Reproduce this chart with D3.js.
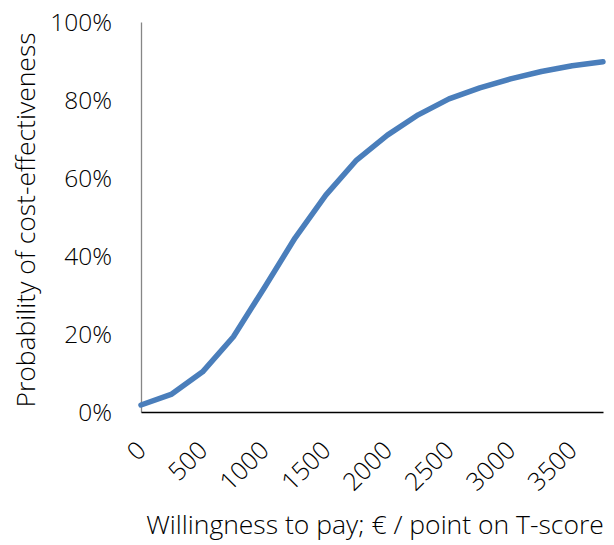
<!DOCTYPE html>
<html>
<head>
<meta charset="utf-8">
<script src="https://cdn.jsdelivr.net/npm/d3@7"></script>
<style>
  body { margin: 0; background: #fff; }
  text { font-family: "Open Sans", sans-serif; font-weight: 300; fill: #000; }
</style>
</head>
<body>
<div class="chart"></div>
<script>
// willingness to pay (€ / point) and probability of cost-effectiveness
var wtp = [0, 250, 500, 750, 1000, 1250, 1500, 1750, 2000, 2250, 2500, 2750, 3000, 3250, 3500, 3750];
var prob = [0.018, 0.046, 0.103, 0.193, 0.318, 0.446, 0.556, 0.646, 0.710, 0.762, 0.803, 0.831, 0.854, 0.873, 0.888, 0.898];
var xTicks = [0, 500, 1000, 1500, 2000, 2500, 3000, 3500];
var yTicks = [0, 0.2, 0.4, 0.6, 0.8, 1];

var w = 614;
var h = 545;
var margin = {top: 22, right: 11, bottom: 133, left: 141};

var svg = d3.select(".chart")
  .append("svg")
  .attr("width", w)
  .attr("height", h);

var x = d3.scaleLinear()
  .domain([0, 3750])
  .range([margin.left, w - margin.right]);

var y = d3.scaleLinear()
  .domain([0, 1])
  .range([h - margin.bottom, margin.top]);

//y axis
var yAxis = svg.append("g")
  .attr("transform", "translate(" + margin.left + ",0)")
  .call(d3.axisLeft(y).tickValues(yTicks).tickSize(0).tickPadding(29).tickFormat(d3.format(".0%")));
yAxis.select(".domain").attr("stroke", "#868686").attr("stroke-width", 1.3);
yAxis.selectAll("text").style("font-size", "24.5px").attr("dy", "0.35em");

//x axis
var xAxis = svg.append("g")
  .attr("transform", "translate(0," + (h - margin.bottom) + ")")
  .call(d3.axisBottom(x).tickValues(xTicks).tickSize(0).tickFormat(d3.format("d")));
xAxis.select(".domain").attr("stroke", "#000").attr("stroke-width", 1.3);
xAxis.selectAll("text")
  .style("font-size", "25px")
  .attr("text-anchor", "end")
  .attr("dy", null)
  .attr("y", 0)
  .attr("transform", "translate(6,40) rotate(-45)");

//line
var line = d3.line()
  .x(function(d, i) { return x(wtp[i]); })
  .y(function(d) { return y(d); });

svg.append("path")
  .datum(prob)
  .attr("d", line)
  .attr("fill", "none")
  .attr("stroke", "#4a7ebb")
  .attr("stroke-width", 5.5)
  .attr("stroke-linejoin", "round")
  .attr("stroke-linecap", "round");

//titles
svg.append("text")
  .attr("transform", "translate(35," + ((margin.top + h - margin.bottom) / 2 + 3) + ") rotate(-90)")
  .attr("text-anchor", "middle")
  .style("font-size", "26.5px")
  .text("Probability of cost-effectiveness");

svg.append("text")
  .attr("x", 375)
  .attr("y", 534)
  .attr("text-anchor", "middle")
  .style("font-size", "26.5px")
  .text("Willingness to pay; € / point on T-score");
</script>
</body>
</html>
